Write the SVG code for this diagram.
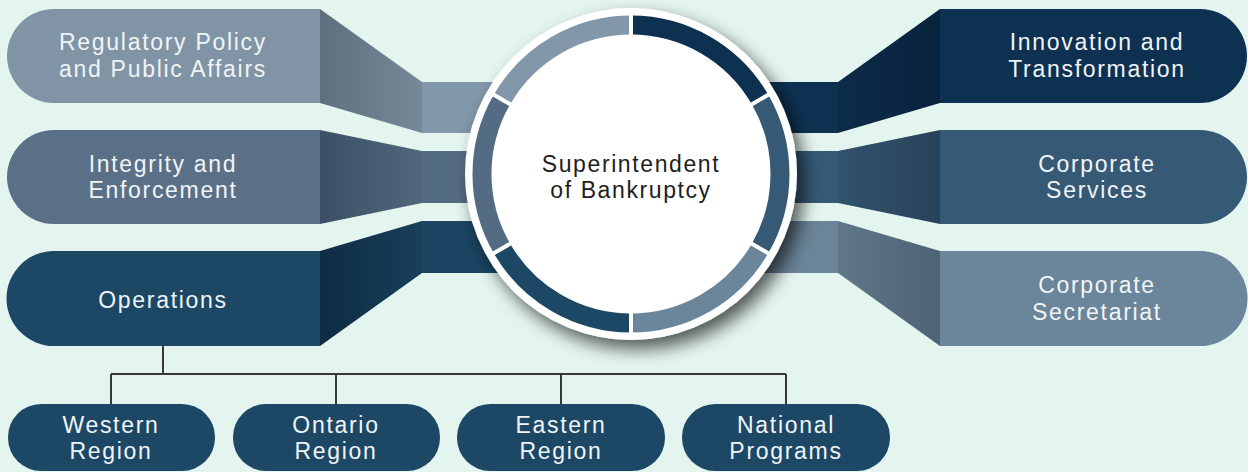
<svg xmlns="http://www.w3.org/2000/svg" width="1248" height="472" viewBox="0 0 1248 472">
  <defs>
    <style>
      .lbl { font-family: "Liberation Sans", Arial, sans-serif; font-size: 23px; fill: #F1F4F6; text-anchor: middle; letter-spacing: 1.7px; }
      .ctr { font-family: "Liberation Sans", Arial, sans-serif; font-size: 23px; fill: #1E1E1E; text-anchor: middle; letter-spacing: 1.6px; }
      .tree { fill: none; stroke: #383838; stroke-width: 2; }
      .seg { fill: none; stroke-width: 19; }
      .gap { stroke: #FFFFFF; stroke-width: 4; }
    </style>
    <!-- sloped joints: darker at box side on the left, darker at box side on the right -->
    <linearGradient id="gL1" x1="320" y1="0" x2="422" y2="0" gradientUnits="userSpaceOnUse">
      <stop offset="0" stop-color="#5E6F80"/><stop offset="1" stop-color="#768999"/>
    </linearGradient>
    <linearGradient id="gL2" x1="320" y1="0" x2="422" y2="0" gradientUnits="userSpaceOnUse">
      <stop offset="0" stop-color="#3C5065"/><stop offset="1" stop-color="#51677C"/>
    </linearGradient>
    <linearGradient id="gL3" x1="320" y1="0" x2="422" y2="0" gradientUnits="userSpaceOnUse">
      <stop offset="0" stop-color="#0E2C43"/><stop offset="1" stop-color="#193F5A"/>
    </linearGradient>
    <linearGradient id="gR1" x1="838" y1="0" x2="940" y2="0" gradientUnits="userSpaceOnUse">
      <stop offset="0" stop-color="#0D2C49"/><stop offset="1" stop-color="#09223D"/>
    </linearGradient>
    <linearGradient id="gR2" x1="838" y1="0" x2="940" y2="0" gradientUnits="userSpaceOnUse">
      <stop offset="0" stop-color="#32536C"/><stop offset="1" stop-color="#27435A"/>
    </linearGradient>
    <linearGradient id="gR3" x1="838" y1="0" x2="940" y2="0" gradientUnits="userSpaceOnUse">
      <stop offset="0" stop-color="#5F7789"/><stop offset="1" stop-color="#4E6374"/>
    </linearGradient>
    <filter id="shadow" x="-30%" y="-30%" width="160%" height="160%">
      <feGaussianBlur in="SourceAlpha" stdDeviation="9"/>
      <feOffset dx="7" dy="9" result="b"/>
      <feComponentTransfer><feFuncA type="linear" slope="0.65"/></feComponentTransfer>
      <feMerge><feMergeNode/><feMergeNode in="SourceGraphic"/></feMerge>
    </filter>
  </defs>

  <rect width="1248" height="472" fill="#E4F5F0"/>

  <!-- joints between the outer boxes and the centre -->
  <g id="connectors">
    <rect x="422" y="82" width="209" height="51" fill="#8297A9"/>
    <rect x="422" y="151" width="209" height="52" fill="#546C83"/>
    <rect x="422" y="221" width="209" height="52" fill="#1B4562"/>
    <rect x="631" y="82" width="207" height="51" fill="#0E3152"/>
    <rect x="631" y="151" width="207" height="52" fill="#365A76"/>
    <rect x="631" y="221" width="207" height="52" fill="#6A8498"/>

    <polygon points="320,9 422,82 422,133 320,103" fill="url(#gL1)"/>
    <polygon points="320,130 422,151 422,203 320,224" fill="url(#gL2)"/>
    <polygon points="320,251 422,221 422,273 320,346" fill="url(#gL3)"/>
    <polygon points="940,9 838,82 838,133 940,103" fill="url(#gR1)"/>
    <polygon points="940,130 838,151 838,203 940,224" fill="url(#gR2)"/>
    <polygon points="940,251 838,221 838,273 940,346" fill="url(#gR3)"/>

    <!-- Operations tree -->
    <path class="tree" d="M163 346 V374 M111 374 H786 M111 374 V404 M336 374 V404 M561 374 V404 M786 374 V404"/>
  </g>

  <g id="regulatory">
    <path d="M320 9 H54 A47 47 0 0 0 54 103 H320 Z" fill="#8094A6"/>
    <text class="lbl" x="163" y="50">Regulatory Policy</text>
    <text class="lbl" x="163" y="77">and Public Affairs</text>
  </g>
  <g id="integrity">
    <path d="M320 130 H54 A47 47 0 0 0 54 224 H320 Z" fill="#5A7086"/>
    <text class="lbl" x="163" y="172">Integrity and</text>
    <text class="lbl" x="163" y="198">Enforcement</text>
  </g>
  <g id="operations">
    <path d="M320 251 H54 A47 47 0 0 0 54 346 H320 Z" fill="#1C4866"/>
    <text class="lbl" x="163" y="308">Operations</text>
  </g>

  <g id="innovation">
    <path d="M940 9 H1200 A47 47 0 0 1 1200 103 H940 Z" fill="#0E3151"/>
    <text class="lbl" x="1097" y="50">Innovation and</text>
    <text class="lbl" x="1097" y="77">Transformation</text>
  </g>
  <g id="corporate-services">
    <path d="M940 130 H1200 A47 47 0 0 1 1200 224 H940 Z" fill="#365A76"/>
    <text class="lbl" x="1097" y="172">Corporate</text>
    <text class="lbl" x="1097" y="198">Services</text>
  </g>
  <g id="corporate-secretariat">
    <path d="M940 251 H1200 A47 47 0 0 1 1200 346 H940 Z" fill="#6B869A"/>
    <text class="lbl" x="1097" y="293">Corporate</text>
    <text class="lbl" x="1097" y="320">Secretariat</text>
  </g>

  <g id="western-region">
    <rect x="8" y="404" width="207" height="67" rx="33" fill="#1C4866"/>
    <text class="lbl" x="111" y="433">Western</text>
    <text class="lbl" x="111" y="459">Region</text>
  </g>
  <g id="ontario-region">
    <rect x="233" y="404" width="207" height="67" rx="33" fill="#1C4866"/>
    <text class="lbl" x="336" y="433">Ontario</text>
    <text class="lbl" x="336" y="459">Region</text>
  </g>
  <g id="eastern-region">
    <rect x="457" y="404" width="208" height="67" rx="33" fill="#1C4866"/>
    <text class="lbl" x="561" y="433">Eastern</text>
    <text class="lbl" x="561" y="459">Region</text>
  </g>
  <g id="national-programs">
    <rect x="682" y="404" width="208" height="67" rx="33" fill="#1C4866"/>
    <text class="lbl" x="786" y="433">National</text>
    <text class="lbl" x="786" y="459">Programs</text>
  </g>

  <!-- centre disc with six coloured ring segments -->
  <g id="superintendent">
    <circle cx="631" cy="174" r="166" fill="#FFFFFF" filter="url(#shadow)"/>
    <path class="seg" stroke="#0E3151" d="M631 25 A149 149 0 0 1 760.04 99.5"/>
    <path class="seg" stroke="#365A76" d="M760.04 99.5 A149 149 0 0 1 760.04 248.5"/>
    <path class="seg" stroke="#6B869A" d="M760.04 248.5 A149 149 0 0 1 631 323"/>
    <path class="seg" stroke="#1C4866" d="M631 323 A149 149 0 0 1 501.96 248.5"/>
    <path class="seg" stroke="#546C83" d="M501.96 248.5 A149 149 0 0 1 501.96 99.5"/>
    <path class="seg" stroke="#8297A9" d="M501.96 99.5 A149 149 0 0 1 631 25"/>
    <path class="gap" d="M631 12 V38 M748.8 106 L771.3 93 M748.8 242 L771.3 255 M631 310 V336 M513.2 242 L490.7 255 M513.2 106 L490.7 93"/>
    <text class="ctr" x="631" y="172">Superintendent</text>
    <text class="ctr" x="631" y="198">of Bankruptcy</text>
  </g>
</svg>
